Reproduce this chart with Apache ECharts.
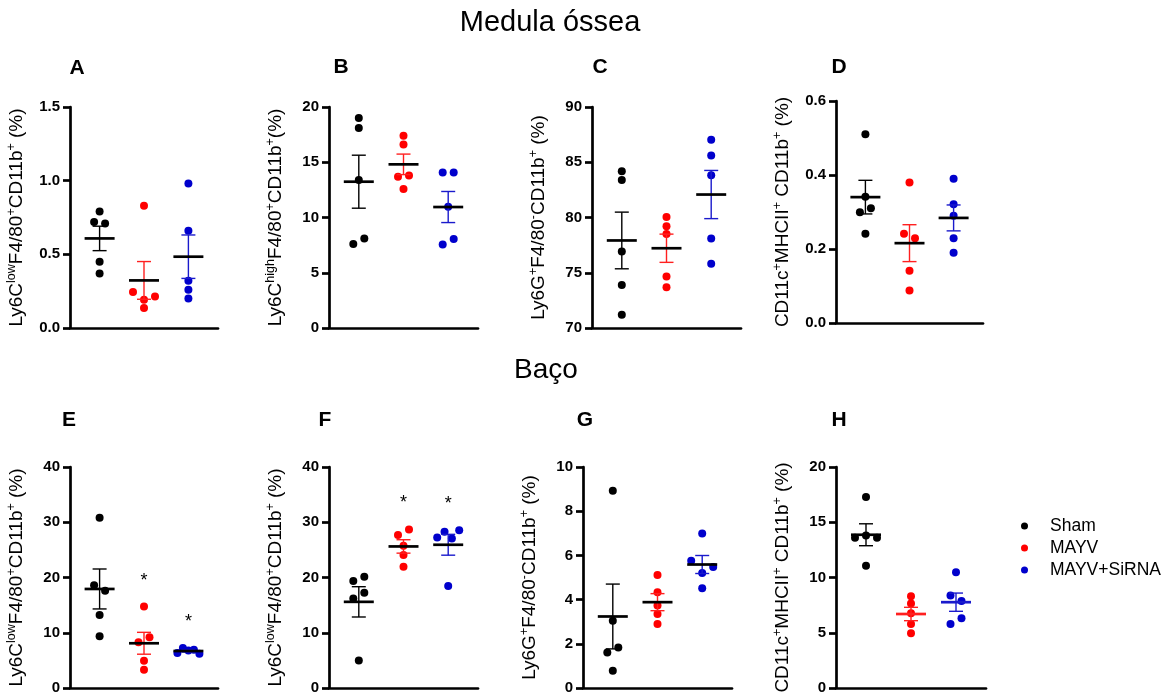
<!DOCTYPE html>
<html>
<head>
<meta charset="utf-8">
<script src="https://cdn.jsdelivr.net/npm/echarts@6/dist/echarts.min.js"></script>
<style>
  html, body { margin: 0; padding: 0; background: #ffffff; }
  #chart { width: 1171px; height: 697px; }
</style>
</head>
<body>
<div id="chart"></div>
<script>
// ---- groups ----
const groupNames = ['Sham', 'MAYV', 'MAYV+SiRNA'];

// ---- Medula óssea ----
const shamA  = [0.79, 0.72, 0.71, 0.45, 0.37];
const mayvA  = [0.83, 0.244, 0.192, 0.214, 0.135];
const sirnaA = [0.98, 0.66, 0.32, 0.26, 0.20];
const yTicksA = [0, 0.5, 1.0, 1.5];

const shamB  = [19.0, 18.1, 13.4, 7.6, 8.1];
const mayvB  = [17.4, 16.6, 13.68, 13.8, 12.57];
const sirnaB = [14.08, 14.08, 10.98, 7.55, 8.05];
const yTicksB = [0, 5, 10, 15, 20];

const shamC  = [84.18, 83.4, 76.93, 73.9, 71.2];
const mayvC  = [80.05, 79.2, 78.5, 74.65, 73.69];
const sirnaC = [87.03, 85.62, 83.82, 78.1, 75.82];
const yTicksC = [70, 75, 80, 85, 90];

const shamD  = [0.51, 0.341, 0.299, 0.31, 0.241];
const mayvD  = [0.38, 0.241, 0.229, 0.141, 0.088];
const sirnaD = [0.39, 0.321, 0.29, 0.229, 0.19];
const yTicksD = [0, 0.2, 0.4, 0.6];

// ---- Baço ----
const shamE  = [30.8, 18.59, 17.62, 13.23, 9.38];
const mayvE  = [14.74, 8.3, 9.2, 4.93, 3.31];
const sirnaE = [6.32, 7.22, 6.80, 6.92, 6.20];
const yTicksE = [0, 10, 20, 30, 40];

const shamF  = [19.37, 20.15, 16.2, 17.25, 5.0];
const mayvF  = [27.67, 28.69, 25.74, 24.06, 21.95];
const sirnaF = [27.25, 28.27, 27.07, 28.57, 18.47];
const yTicksF = [0, 10, 20, 30, 40];

const shamG  = [8.92, 3.04, 1.61, 1.83, 0.78];
const mayvG  = [5.11, 4.33, 3.73, 3.35, 2.90];
const sirnaG = [6.99, 5.76, 5.20, 5.48, 4.51];
const yTicksG = [0, 2, 4, 6, 8, 10];

const shamH  = [17.29, 13.59, 13.8, 13.59, 11.07];
const mayvH  = [8.3, 7.65, 6.77, 5.80, 4.96];
const sirnaH = [10.47, 8.36, 7.88, 5.80, 6.32];
const yTicksH = [0, 5, 10, 15, 20];

// significance marks (*) per group
const starsE = [false, true, true];
const starsF = [false, true, true];

// axis titles (rich text, {s|...} = superscript)
const nameLy6Clow  = 'Ly6C{s|low}F4/80{s|+}CD11b{s|+} (%)';
const nameLy6Chigh = 'Ly6C{s|high}F4/80{s|+}CD11b{s|+}(%)';
const nameLy6G     = 'Ly6G{s|+}F4/80{s|-}CD11b{s|+} (%)';
const nameCD11c    = 'CD11c{s|+}MHCII{s|+} CD11b{s|+} (%)';

// ---- styling ----
const FONT = "'Liberation Sans', Arial, Helvetica, sans-serif";
const dotColors = ['#000000', '#ff0000', '#0000cc'];
const barColors = ['#000000', '#ff2020', '#1a1acc'];
const X_MIN = 1 / 3, X_MAX = 11 / 3;   // group centres sit at 1, 2, 3
const SLOT_PX = 11;                     // horizontal spacing of overlapping dots
const COLLIDE_PX = 6.8;                 // vertical distance below which dots overlap

const panels = [
  { letter: 'A', box: [70, 107, 148, 221], ticks: yTicksA, dec: 1, name: nameLy6Clow,  values: [shamA, mayvA, sirnaA] },
  { letter: 'B', box: [329, 107, 149, 221], ticks: yTicksB, dec: 0, name: nameLy6Chigh, values: [shamB, mayvB, sirnaB] },
  { letter: 'C', box: [592, 107, 149, 221], ticks: yTicksC, dec: 0, name: nameLy6G,     values: [shamC, mayvC, sirnaC] },
  { letter: 'D', box: [836, 101, 147, 222], ticks: yTicksD, dec: 1, name: nameCD11c,    values: [shamD, mayvD, sirnaD] },
  { letter: 'E', box: [70, 467, 148, 221], ticks: yTicksE, dec: 0, name: nameLy6Clow,  values: [shamE, mayvE, sirnaE], stars: starsE },
  { letter: 'F', box: [329, 467, 149, 221], ticks: yTicksF, dec: 0, name: nameLy6Clow,  values: [shamF, mayvF, sirnaF], stars: starsF },
  { letter: 'G', box: [583, 467, 149, 221], ticks: yTicksG, dec: 0, name: nameLy6G,     values: [shamG, mayvG, sirnaG] },
  { letter: 'H', box: [836, 467, 150, 221], ticks: yTicksH, dec: 0, name: nameCD11c,    values: [shamH, mayvH, sirnaH], meanColored: true }
];

// panel letter positions
const letterPos = { A: [77, 68], B: [341, 67], C: [600, 67], D: [839, 67],
                    E: [69, 420], F: [325, 420], G: [585, 420], H: [839, 420] };

function mean(a) { return a.reduce((s, v) => s + v, 0) / a.length; }
function sem(a) {
  const m = mean(a);
  const sd = Math.sqrt(a.reduce((s, v) => s + (v - m) * (v - m), 0) / (a.length - 1));
  return sd / Math.sqrt(a.length);
}

// Spread overlapping dots sideways: values closer than COLLIDE_PX form a cluster,
// and each cluster is laid out symmetrically around the group centre.
function swarmOffsets(vals, pxPerUnit) {
  const order = vals.map((v, i) => i).sort((a, b) => vals[b] - vals[a]);
  const clusters = [];
  let cur = [order[0]];
  for (let k = 1; k < order.length; k++) {
    const prev = order[k - 1], i = order[k];
    if ((vals[prev] - vals[i]) * pxPerUnit < COLLIDE_PX) cur.push(i);
    else { clusters.push(cur); cur = [i]; }
  }
  clusters.push(cur);
  const off = new Array(vals.length).fill(0);
  clusters.forEach(c => {
    c.sort((a, b) => a - b);
    const n = c.length;
    const step = n <= 3 ? 1 : 2 / (n - 1);
    c.forEach((i, j) => { off[i] = (j - (n - 1) / 2) * step; });
  });
  return off;
}

const grids = [], xAxes = [], yAxes = [], series = [], graphics = [];

panels.forEach((p, pi) => {
  const [left, top, width, height] = p.box;
  const yMin = p.ticks[0], yMax = p.ticks[p.ticks.length - 1];
  const interval = p.ticks[1] - p.ticks[0];
  grids.push({ left, top, width, height });

  xAxes.push({
    type: 'value', gridIndex: pi, min: X_MIN, max: X_MAX,
    axisLine: { show: true, onZero: false, lineStyle: { color: '#000', width: 2.7 } },
    axisTick: { show: false }, axisLabel: { show: false }, splitLine: { show: false }
  });

  yAxes.push({
    type: 'value', gridIndex: pi, min: yMin, max: yMax, interval,
    name: p.name, nameLocation: 'middle', nameGap: 41, nameRotate: 90,
    nameTextStyle: {
      fontFamily: FONT, fontSize: 19, color: '#000', lineHeight: 24,
      rich: { s: { fontFamily: FONT, fontSize: 12.5, lineHeight: 12, verticalAlign: 'top', color: '#000' } }
    },
    axisLine: { show: true, lineStyle: { color: '#000', width: 2.7 } },
    axisTick: { show: true, inside: false, length: 7, lineStyle: { color: '#000', width: 2.7 } },
    axisLabel: {
      margin: 10, fontFamily: FONT, fontSize: 15, fontWeight: 'bold', color: '#000',
      formatter: v => Number(v).toFixed(p.dec)
    },
    splitLine: { show: false }
  });

  const pxPerUnit = height / (yMax - yMin);
  const slotUnits = SLOT_PX * (X_MAX - X_MIN) / width;

  // individual animals
  p.values.forEach((vals, g) => {
    const off = swarmOffsets(vals, pxPerUnit);
    series.push({
      type: 'scatter', name: groupNames[g], xAxisIndex: pi, yAxisIndex: pi,
      symbol: 'circle', symbolSize: 8, z: 3,
      itemStyle: { color: dotColors[g], opacity: 1 },
      emphasis: { disabled: true },
      data: vals.map((v, i) => [g + 1 + off[i] * slotUnits, v])
    });
  });

  // mean ± SEM
  series.push({
    type: 'custom', xAxisIndex: pi, yAxisIndex: pi, z: 4, silent: true,
    data: p.values.map((vals, g) => [g + 1, mean(vals), sem(vals)]),
    renderItem: (params, api) => {
      const g = params.dataIndex;
      const x = api.value(0), m = api.value(1), s = api.value(2);
      const c = api.coord([x, m]), hi = api.coord([x, m + s]), lo = api.coord([x, m - s]);
      const bc = barColors[g];
      const mc = p.meanColored ? barColors[g] : '#000000';
      const thin = { stroke: bc, lineWidth: 1.4 };
      return {
        type: 'group', children: [
          { type: 'line', shape: { x1: c[0], y1: hi[1], x2: c[0], y2: lo[1] }, style: thin },
          { type: 'line', shape: { x1: c[0] - 7, y1: hi[1], x2: c[0] + 7, y2: hi[1] }, style: thin },
          { type: 'line', shape: { x1: c[0] - 7, y1: lo[1], x2: c[0] + 7, y2: lo[1] }, style: thin },
          { type: 'line', shape: { x1: c[0] - 15, y1: c[1], x2: c[0] + 15, y2: c[1] }, style: { stroke: mc, lineWidth: 2.7 } }
        ]
      };
    }
  });

  // significance asterisks above the highest dot of a group
  if (p.stars) {
    const starData = [];
    p.values.forEach((vals, g) => { if (p.stars[g]) starData.push([g + 1, Math.max(...vals)]); });
    series.push({
      type: 'custom', xAxisIndex: pi, yAxisIndex: pi, z: 4, silent: true,
      data: starData,
      renderItem: (params, api) => {
        const c = api.coord([api.value(0), api.value(1)]);
        return {
          type: 'text', x: c[0], y: c[1] - 26,
          style: { text: '*', fontFamily: FONT, fontSize: 18, fill: '#000', align: 'center', verticalAlign: 'middle' }
        };
      }
    });
  }

  const lp = letterPos[p.letter];
  graphics.push({
    type: 'text', x: lp[0], y: lp[1],
    style: { text: p.letter, fontFamily: FONT, fontSize: 21, fontWeight: 'bold', fill: '#000', align: 'center', verticalAlign: 'middle' }
  });
});

graphics.push({
  type: 'text', x: 550, y: 23,
  style: { text: 'Medula óssea', fontFamily: FONT, fontSize: 29, fill: '#000', align: 'center', verticalAlign: 'middle' }
});
graphics.push({
  type: 'text', x: 546, y: 370,
  style: { text: 'Baço', fontFamily: FONT, fontSize: 28, fill: '#000', align: 'center', verticalAlign: 'middle' }
});

const chart = echarts.init(document.getElementById('chart'), null, { renderer: 'canvas' });
chart.setOption({
  animation: false,
  backgroundColor: '#ffffff',
  textStyle: { fontFamily: FONT },
  grid: grids,
  xAxis: xAxes,
  yAxis: yAxes,
  legend: {
    data: groupNames, orient: 'vertical', left: 1016, top: 512,
    icon: 'circle', itemWidth: 7, itemHeight: 7, itemGap: 4,
    selectedMode: false,
    textStyle: { fontFamily: FONT, fontSize: 17.5, color: '#000', padding: [0, 0, 0, 17] }
  },
  graphic: graphics,
  series
});
</script>
</body>
</html>
